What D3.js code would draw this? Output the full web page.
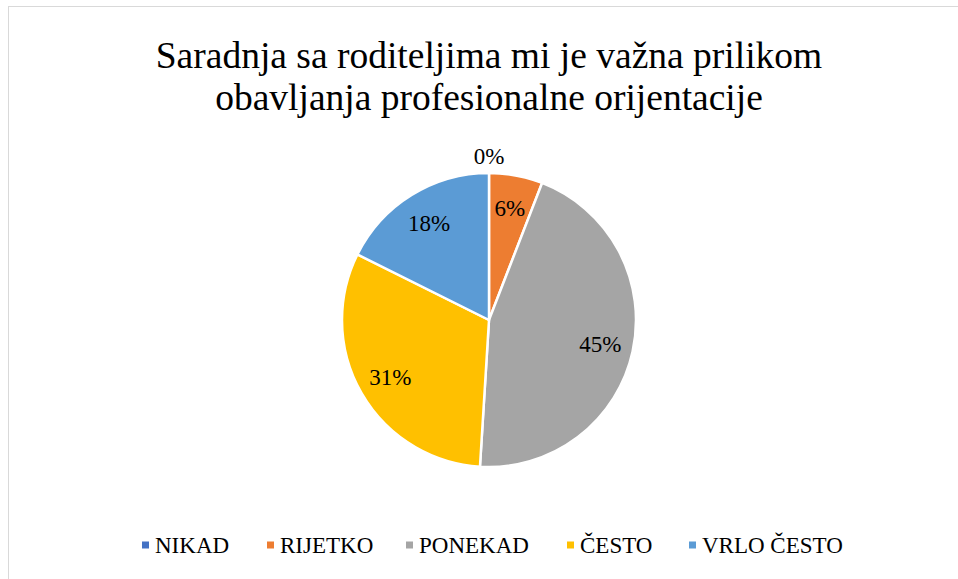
<!DOCTYPE html>
<html>
<head>
<meta charset="utf-8">
<script src="https://cdn.jsdelivr.net/npm/d3@7"></script>
<style>
  html, body { margin: 0; padding: 0; background: #fff; }
  svg { display: block; }
</style>
</head>
<body>
<svg id="chart" width="958" height="579"></svg>
<script>
const titleLines = ["Saradnja sa roditeljima mi je važna prilikom", "obavljanja profesionalne orijentacije"];
const categories = ["NIKAD", "RIJETKO", "PONEKAD", "ČESTO", "VRLO ČESTO"];
const values = [0, 3, 23, 16, 9];
const colors = ["#4472C4", "#ED7D31", "#A5A5A5", "#FFC000", "#5B9BD5"];

const FONT = "'Liberation Serif', 'Times New Roman', Times, 'DejaVu Serif', serif";
const W = 958, H = 579;
const svg = d3.select("#chart");

svg.append("rect").attr("x", 8.5).attr("y", 6.5).attr("width", 970).attr("height", 600)
  .attr("fill", "#fff").attr("stroke", "#d9d9d9").attr("stroke-width", 1);

const title = svg.append("text").attr("text-anchor", "middle").attr("font-size", 37.5)
  .attr("font-family", FONT).attr("fill", "#000");
titleLines.forEach((t, i) => {
  title.append("tspan").attr("x", 489).attr("y", 68 + i * 42).text(t);
});

const cx = 489, cy = 320, R = 147;
const total = d3.sum(values);
const data = categories.map((c, i) => ({ cat: c, value: values[i], color: colors[i] }));
const pie = d3.pie().value(d => d.value).sort(null);
const arcs = pie(data);
const arc = d3.arc().innerRadius(0).outerRadius(R);
const labelArc = d3.arc().innerRadius(114).outerRadius(114);
const outerLabelArc = d3.arc().innerRadius(164).outerRadius(164);

const g = svg.append("g").attr("transform", `translate(${cx},${cy})`);
g.selectAll("path.slice").data(arcs).enter().append("path")
  .attr("class", "slice")
  .attr("d", arc)
  .attr("fill", d => d.data.color)
  .attr("stroke", "#fff").attr("stroke-width", 2.5).attr("stroke-linejoin", "round");

g.selectAll("text.lbl").data(arcs).enter().append("text")
  .attr("class", "lbl")
  .attr("transform", d => {
    const p = d.data.value === 0 ? outerLabelArc.centroid(d) : labelArc.centroid(d);
    return `translate(${p[0]},${p[1]})`;
  })
  .attr("text-anchor", "middle").attr("dy", "0.35em")
  .attr("font-family", FONT).attr("fill", "#000")
  .attr("font-size", 23)
  .text(d => Math.round(d.data.value / total * 100) + "%");

const legendX = [142, 267, 406, 567, 689];
const legend = svg.append("g");
data.forEach((d, i) => {
  const lg = legend.append("g").attr("transform", `translate(${legendX[i]},545)`);
  lg.append("rect").attr("x", 0).attr("y", -3.5).attr("width", 7).attr("height", 7).attr("fill", d.color);
  lg.append("text").attr("x", 13).attr("y", 8).attr("font-size", 23)
    .attr("font-family", FONT).attr("fill", "#000").text(d.cat);
});
</script>
</body>
</html>
